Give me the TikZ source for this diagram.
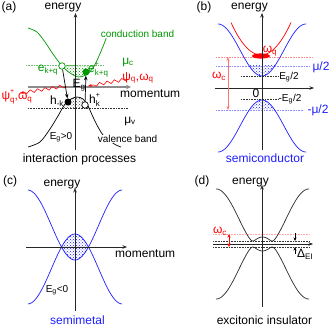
\documentclass[tikz,border=0pt]{standalone}
\usepackage{fontspec}
\setmainfont{Liberation Sans}
\usetikzlibrary{arrows.meta,patterns,decorations.pathmorphing}
\definecolor{gr}{RGB}{0,150,0}
\definecolor{bl}{RGB}{30,30,255}
\definecolor{rd}{RGB}{255,0,0}
\newcommand\lo[1]{\textsubscript{#1}}
\newcommand\bothscr[2]{\rlap{\raisebox{6.5pt}{\fontsize{7}{7}\selectfont #1}}\raisebox{-3pt}{\fontsize{8}{8}\selectfont #2}}
\begin{document}
\begin{tikzpicture}[x=1pt,y=-1pt,
  txt/.style={inner sep=0pt, font=\fontsize{12}{14}\selectfont},
  stxt/.style={inner sep=0pt, font=\fontsize{10}{12}\selectfont},
  tip/.style={-{Stealth[length=4.5pt,width=3.5pt]}},
  axis/.style={line width=0.6pt, black!85, tip},
  band/.style={line width=0.7pt},
  guide/.style={densely dotted, line width=0.6pt},
  trans/.style={line width=0.7pt, tip},
  wave/.style={rd, line width=0.6pt, decorate, decoration={snake, amplitude=1.6pt, segment length=7.5pt, post length=3pt}, -{Stealth[length=4pt,width=3pt]}},
  declare function={
    cb(\x)=76-26*(1-cos(180*(\x-262)/44));
    vb(\x)=100+26*(1-cos(180*(\x-262)/44));
    cc(\x)=260-35*(1-cos(180*(\x-75)/47.5));
    vc(\x)=234+35*(1-cos(180*(\x-75)/47.5));
    epsd(\x)=-6.3+30.65*(1-cos(180*(\x-262.5)/46.5));
    Ed(\x)=sqrt(epsd(\x)*epsd(\x)+9);
  }]
\useasboundingbox (0,0) rectangle (332,328);

% ================= (a) =================
\begin{scope}
  \clip (20,65) rectangle (130,100);
  \fill[pattern=crosshatch dots, pattern color=gr] plot[smooth] coordinates {(28,28) (37,32) (45,42) (53,54) (62,66) (70,73) (78,77) (86,75) (93,68) (99,56) (104,44) (107,36)} -- (107,0) -- (28,0) -- cycle;
\end{scope}
\begin{scope}
  \clip (20,0) rectangle (130,108);
  \fill[pattern=crosshatch dots, pattern color=black!70] plot[smooth] coordinates {(28,147) (40,142) (50,129) (58,116) (65,104) (71,99) (77,97) (83,99) (88,106) (93,117) (98,127) (103,135) (110,141) (116,145) (121,147)} -- (121,200) -- (28,200) -- cycle;
\end{scope}
\draw[guide, gr!60] (26,65) -- (104,65);
\draw[guide, black!80] (28,108) -- (128,108);
\draw[band, gr] plot[smooth] coordinates {(28,28) (37,32) (45,42) (53,54) (62,66) (70,73) (78,77) (86,75) (93,68) (99,56) (104,44) (107,36)};
\draw[band, black] plot[smooth] coordinates {(28,147) (40,142) (50,129) (58,116) (65,104) (71,99) (77,97) (83,99) (88,106) (93,117) (98,127) (103,135) (110,141) (116,145) (121,147)};
\coordinate (am0) at (28,87); \coordinate (am1) at (131,87);
\draw[black!45, line width=1.3pt, -{Stealth[length=5pt,width=4.5pt]}] (am0) -- (am1);
\coordinate (a0) at (75.5,150); \coordinate (a1) at (75.5,13);
\draw[axis] (a0) -- (a1);
\coordinate (wR1) at (128,79); \coordinate (wR2) at (88,86);
\coordinate (wL1) at (66,86); \coordinate (wL2) at (20,93);
\draw[wave] (wR1) -- (wR2);
\draw[wave] (wL1) -- (wL2);
\node[circle,draw=gr,fill=white,line width=0.7pt,minimum size=6.5pt,inner sep=0pt] (eo) at (62,66) {};
\node[circle,fill=gr,minimum size=7pt,inner sep=0pt] (ef) at (86,72) {};
\node[circle,fill=black,minimum size=7pt,inner sep=0pt] (hf) at (68,102) {};
\node[circle,draw=black,fill=white,line width=0.7pt,minimum size=6.5pt,inner sep=0pt] (ho) at (85,105) {};
\draw[trans] (eo) -- (hf);
\draw[trans] (ho) -- (ef);
\node[txt] (la) at (9,7) {(a)};
\node[txt,anchor=base] (ea) at (63,10) {energy};
\node[txt,anchor=base west] (ma) at (120,98) {momentum};
\node[stxt,gr,fill=white,inner sep=0.5pt] (cbl) at (137.5,34) {conduction band};
\node[stxt,fill=white,inner sep=0.5pt] (vbl) at (127.5,139) {valence band};
\node[txt,gr] (muc) at (128,62) {μ\lo{c}};
\node[txt] (muv) at (130,121) {μ\lo{v}};
\node[txt] (eg) at (79,85) {E\lo{g}};
\node[stxt] (egp) at (61,137) {E\lo{g}>0};
\node[txt,anchor=base] (ip) at (79.5,162.5) {interaction processes};
\node[txt,gr] (lek) at (48,70) {e\lo{k+q}};
\node[txt,gr,anchor=west] (lekp) at (88,70) {e\bothscr{+}{k+q}};
\node[txt] (lhk) at (57,101) {h\lo{-k}};
\node[txt,anchor=west] (lhkp) at (89,100) {h\bothscr{+}{k}};
\node[txt,rd] (psi) at (138,78) {ψ\lo{q},ω\lo{q}};
\node[txt,rd] (psip) at (17,97) {ψ\bothscr{+}{q},ω\lo{q}};

% ================= (b) =================
\begin{scope}
  \clip (210,66) rectangle (320,88);
  \fill[pattern=crosshatch dots, pattern color=bl] plot[domain=240:284,samples=40] (\x,{cb(\x)}) -- (284,0) -- (240,0) -- cycle;
\end{scope}
\begin{scope}
  \clip (210,88) rectangle (320,110);
  \fill[pattern=crosshatch dots, pattern color=bl] plot[domain=240:284,samples=40] (\x,{vb(\x)}) -- (284,200) -- (240,200) -- cycle;
\end{scope}
\draw[guide, red!45] (216,57) -- (313,57);
\draw[guide, bl!50] (216,66) -- (310,66);
\draw[guide, bl!50] (216,110) -- (304,110);
\draw[guide, black!80] (241,76) -- (278,76);
\draw[guide, black!80] (241,99) -- (278,99);
\draw[band, bl] plot[domain=218:306,samples=80] (\x,{cb(\x)});
\draw[band, bl] plot[domain=218:306,samples=80] (\x,{vb(\x)});
\draw[band, rd] plot[domain=231:291,samples=60] (\x,{55-0.036*(\x-261)*(\x-261)});
\fill[rd] (261,56) ellipse (9 and 2.6);
\coordinate (b0) at (262,150); \coordinate (b1) at (262,13);
\draw[axis] (b0) -- (b1);
\coordinate (bm0) at (215,88); \coordinate (bm1) at (314,88);
\draw[axis] (bm0) -- (bm1);
\coordinate (wc0) at (228,57); \coordinate (wc1) at (228,110);
\draw[red!55, line width=0.8pt, {Stealth[length=4pt,width=3pt]}-{Stealth[length=4pt,width=3pt]}] (wc0) -- (wc1);
\node[txt] (lb) at (204,7) {(b)};
\node[txt,anchor=base] (eb) at (249.5,10) {energy};
\node[txt] (zero) at (256,93) {0};
\node[txt,bl] (mu2) at (321,67) {μ/2};
\node[txt,bl] (mmu2) at (318,110) {-μ/2};
\node[stxt] (eg2) at (289,77) {E\lo{g}/2};
\node[stxt] (meg2) at (290,99) {-E\lo{g}/2};
\node[txt,rd] (wcb) at (219,76) {ω\lo{c}};
\node[txt,rd] (wq) at (270,51) {ω\lo{q}};
\node[txt,bl,anchor=base] (sc) at (265,162.5) {semiconductor};

% ================= (c) =================
\begin{scope}
  \clip plot[domain=50:100,samples=50] (\x,{vc(\x)}) -- (100,400) -- (50,400) -- cycle;
  \fill[pattern=crosshatch dots, pattern color=bl] plot[domain=50:100,samples=50] (\x,{cc(\x)}) -- (100,0) -- (50,0) -- cycle;
\end{scope}
\draw[band, bl] plot[domain=28:122,samples=80] (\x,{cc(\x)});
\draw[band, bl] plot[domain=28:122,samples=80] (\x,{vc(\x)});
\coordinate (c0) at (75,311); \coordinate (c1) at (75,188);
\draw[axis] (c0) -- (c1);
\coordinate (cm0) at (26,247); \coordinate (cm1) at (127,247);
\draw[axis] (cm0) -- (cm1);
\node[txt] (lc) at (10,181) {(c)};
\node[txt,anchor=base] (ec) at (62,187) {energy};
\node[txt,anchor=base west] (mc) at (115,258) {momentum};
\node[stxt] (egn) at (57,290) {E\lo{g}<0};
\node[txt,bl,anchor=base] (sm) at (77.5,324.5) {semimetal};

% ================= (d) =================
\draw[guide, red!35] (213,234) -- (310,234);
\draw[guide, black!80] (213,241) -- (310,241);
\draw[guide, black!80] (213,247) -- (310,247);
\draw[band, black!85] plot[domain=216:309,samples=120] (\x,{244-Ed(\x)});
\draw[band, black!85] plot[domain=216:309,samples=120] (\x,{244+Ed(\x)});
\coordinate (d0) at (262,307); \coordinate (d1) at (262,185);
\draw[axis] (d0) -- (d1);
\coordinate (dm0) at (213,244); \coordinate (dm1) at (313,244);
\draw[axis] (dm0) -- (dm1);
\coordinate (wd0) at (229,234); \coordinate (wd1) at (229,247);
\draw[rd, line width=0.8pt, {Stealth[length=3.5pt,width=3pt]}-{Stealth[length=3.5pt,width=3pt]}] (wd0) -- (wd1);
\coordinate (de0) at (295,233); \coordinate (de1) at (295,241);
\coordinate (de2) at (295,254); \coordinate (de3) at (295,247);
\draw[line width=0.6pt, -{Stealth[length=3.5pt,width=3pt]}] (de0) -- (de1);
\draw[line width=0.6pt, -{Stealth[length=3.5pt,width=3pt]}] (de2) -- (de3);
\node[txt] (ld) at (202,181) {(d)};
\node[txt,anchor=base] (ed) at (250.5,184.5) {energy};
\node[txt,rd] (wcd) at (220,231) {ω\lo{c}};
\node[txt,anchor=west] (dei) at (297,254) {Δ\lo{EI}};
\node[txt,anchor=base] (ei) at (264.5,325) {excitonic insulator};
\end{tikzpicture}
\end{document}
